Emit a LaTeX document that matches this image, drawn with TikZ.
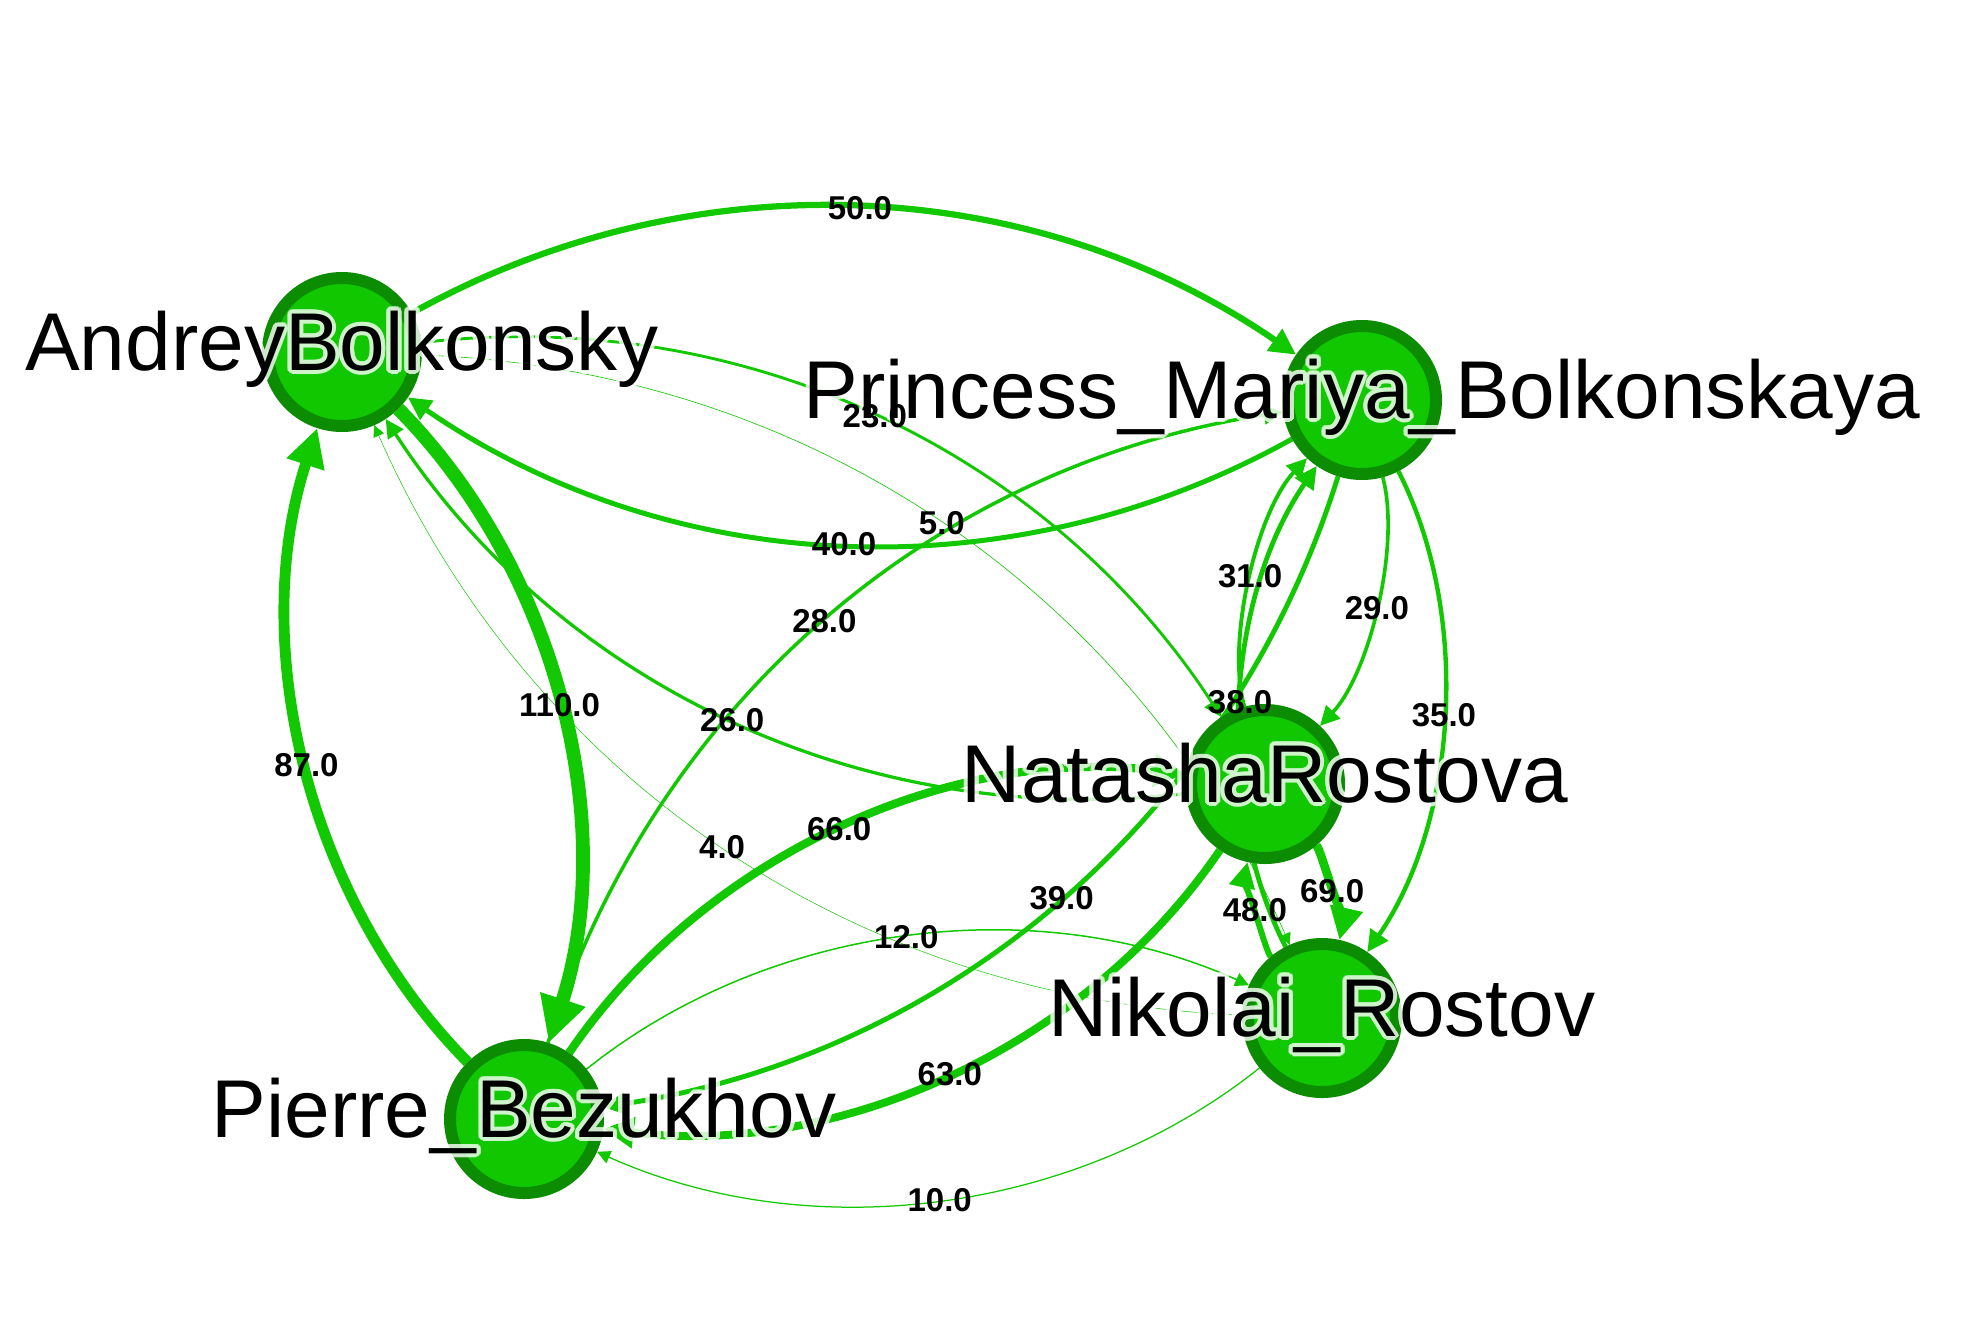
\documentclass[tikz,border=0pt]{standalone}
\usepackage{fontspec}
\setmainfont{Liberation Sans}
\usepackage{contour}
\usetikzlibrary{calc,arrows.meta}
\contourlength{4pt}
\contournumber{16}
\definecolor{edgegreen}{RGB}{18,200,0}
\definecolor{nodefill}{RGB}{17,200,0}
\definecolor{nodering}{RGB}{12,140,0}
\tikzset{
  edge/.style={draw=edgegreen, -{Triangle[length=10pt 2.6, width=10pt 2.5]}},
  anchorpt/.style={circle, minimum size=160pt, inner sep=0pt, outer sep=0pt},
  disc/.style={circle, minimum size=148pt, inner sep=0pt, fill=nodefill, draw=nodering, line width=12pt},
  nlabel/.style={anchor=base, inner sep=0pt, font=\fontsize{82pt}{90pt}\selectfont},
  elabel/.style={inner sep=0pt, font=\fontsize{33pt}{36pt}\selectfont\bfseries},
}
\newcommand\grEdge[3]{%
  \coordinate (mid) at ($(#1)!0.5!(#2)$);
  \coordinate (lp#1#2) at ($(mid)!0.33!90:(#2)$);
  \coordinate (ctlz) at ($(mid)!0.66!90:(#2)$);
  \coordinate (ctl) at ($(ctlz)!20pt!(mid)$);
  \draw[edge, line width=#3pt] (#1) .. controls ($(#1)!0.6667!(ctl)$) and ($(#2)!0.6667!(ctl)$) .. (#2);
}
\newcommand\grLabel[3]{\node[elabel] (lab#1#2) at (lp#1#2) {#3};}
\newcommand\grName[2]{%
  \begin{scope}[transparency group, opacity=0.8]
    \node[nlabel, text=white] (halo#1) at ($(#1)+(0,-18)$) {\contour{white}{#2}};
  \end{scope}
  \node[nlabel] (name#1) at ($(#1)+(0,-18)$) {#2};
}
\begin{document}
\begin{tikzpicture}[x=1pt,y=1pt]
\useasboundingbox (0,-1331) rectangle (1964,0);
\fill[white] (0,-1331) rectangle (1964,0);
% node anchors
\node[anchorpt] (A) at (342,-352) {};
\node[anchorpt] (M) at (1362,-400) {};
\node[anchorpt] (N) at (1265,-784) {};
\node[anchorpt] (K) at (1322,-1018) {};
\node[anchorpt] (P) at (524,-1119) {};
% edges
\grEdge{A}{M}{6.25}
\grEdge{M}{A}{5}
\grEdge{A}{N}{2.875}
\grEdge{N}{A}{3.25}
\grEdge{A}{P}{13.75}
\grEdge{P}{A}{10.875}
\grEdge{K}{A}{0.5}
\grEdge{A}{K}{0.625}
\grEdge{P}{M}{3.5}
\grEdge{M}{P}{4.875}
\grEdge{P}{N}{8.25}
\grEdge{N}{P}{7.875}
\grEdge{P}{K}{1.5}
\grEdge{K}{P}{1.25}
\grEdge{N}{M}{3.875}
\grEdge{M}{N}{3.625}
\grEdge{K}{M}{4.75}
\grEdge{M}{K}{4.375}
\grEdge{N}{K}{8.625}
\grEdge{K}{N}{6}
% node discs
\node[disc] (discA) at (A) {};
\node[disc] (discM) at (M) {};
\node[disc] (discN) at (N) {};
\node[disc] (discK) at (K) {};
\node[disc] (discP) at (P) {};
% node names
\grName{A}{AndreyBolkonsky}
\grName{M}{Princess\_Mariya\_Bolkonskaya}
\grName{N}{NatashaRostova}
\grName{K}{Nikolai\_Rostov}
\grName{P}{Pierre\_Bezukhov}
% edge labels
\grLabel{A}{M}{50.0}
\grLabel{M}{A}{40.0}
\grLabel{A}{N}{23.0}
\grLabel{N}{A}{26.0}
\grLabel{A}{P}{110.0}
\grLabel{P}{A}{87.0}
\grLabel{K}{A}{4.0}
\grLabel{A}{K}{5.0}
\grLabel{P}{M}{28.0}
\grLabel{M}{P}{39.0}
\grLabel{P}{N}{66.0}
\grLabel{N}{P}{63.0}
\grLabel{P}{K}{12.0}
\grLabel{K}{P}{10.0}
\grLabel{N}{M}{31.0}
\grLabel{M}{N}{29.0}
\grLabel{K}{M}{38.0}
\grLabel{M}{K}{35.0}
\grLabel{N}{K}{69.0}
\grLabel{K}{N}{48.0}
\end{tikzpicture}
\end{document}
